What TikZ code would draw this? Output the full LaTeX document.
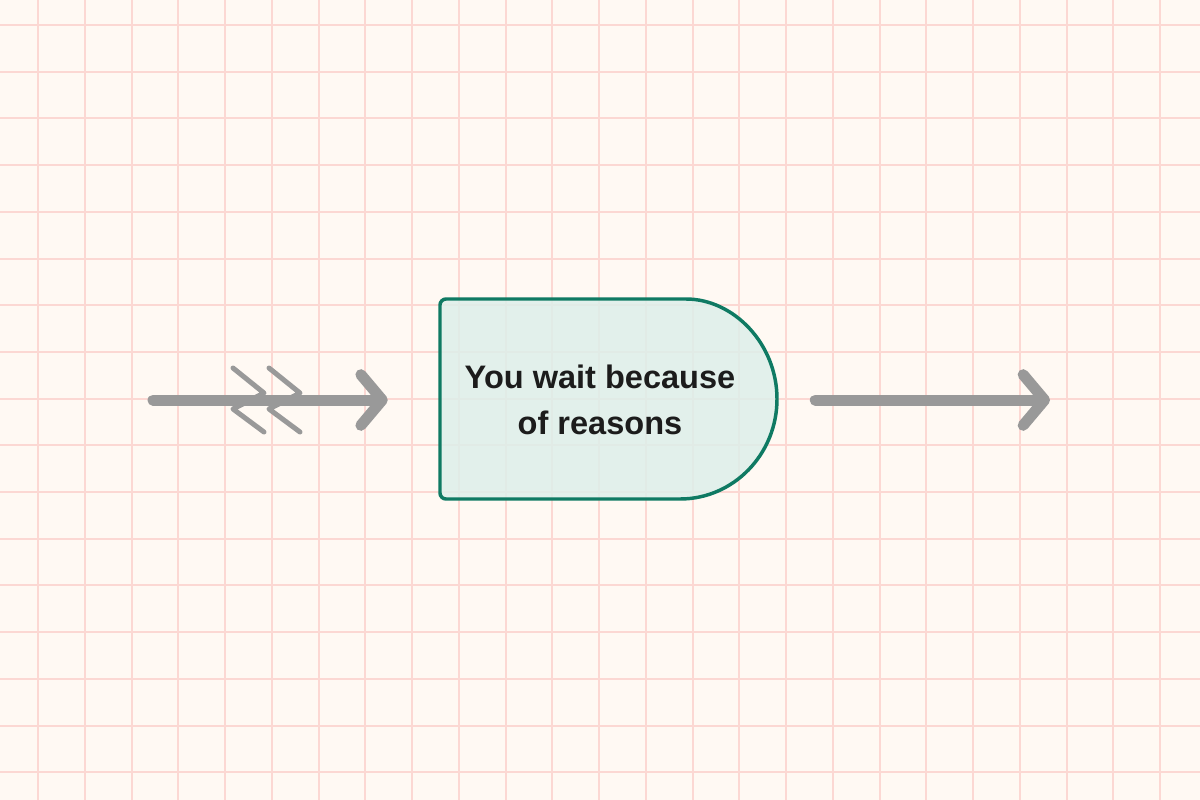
\documentclass[tikz,border=0pt]{standalone}
\usepackage{fontspec}
\setmainfont{Liberation Sans}
\usetikzlibrary{arrows.meta}

\definecolor{paper}{HTML}{FFF9F3}
\definecolor{gridline}{HTML}{FCD8D3}
\definecolor{mint}{HTML}{DDEFEA}
\definecolor{pine}{HTML}{0F7A63}
\definecolor{flowgray}{HTML}{999999}
\definecolor{ink}{HTML}{1C1C1C}

\begin{document}
\begin{tikzpicture}
  [x=0.75pt,y=-0.75pt,
   flow/.style={draw=flowgray,line width=8.25pt,line cap=round,
     -{Straight Barb[round,length=16pt,width=38pt,line width=8.25pt]}},
   waitmark/.style={draw=flowgray,line width=3.75pt,line cap=round,line join=round},
   boxtext/.style={font=\bfseries\fontsize{24.4}{34.5}\selectfont,text=ink,align=center,
     minimum width=240pt,minimum height=150pt}]

  \useasboundingbox (0,0) rectangle (1200,800);
  \fill[paper] (0,0) rectangle (1200,800);
  \foreach \i in {0,...,24}
    \draw[gridline,line width=1.5pt] ({38+46.75*\i},0) -- ({38+46.75*\i},800);
  \foreach \j in {0,...,16}
    \draw[gridline,line width=1.5pt] (0,{25+46.7*\j}) -- (1200,{25+46.7*\j});

  % the wait shape
  \draw[pine,line width=2.6pt,fill=mint,fill opacity=0.85,rounded corners=4.5pt]
    (680,499) -- (440,499) -- (440,299) -- (680,299) [sharp corners]
    arc[start angle=-90,end angle=90,x radius=97,y radius=100] -- cycle;

  \node[boxtext] (wait) at (600,400) {You wait because\\of reasons};
  \coordinate (in) at (153,400);
  \coordinate (out) at (1050,400);

  \draw[flow,shorten >=39pt] (in) -- (wait.west);
  \draw[flow,shorten <=41.25pt] (wait.east) -- (out);

  % the two wait marks on the way in
  \draw[waitmark] (233,368) -- (264,393) -- (233,409) -- (264,432);
  \draw[waitmark] (269,368) -- (300,393) -- (269,409) -- (300,432);
\end{tikzpicture}
\end{document}
